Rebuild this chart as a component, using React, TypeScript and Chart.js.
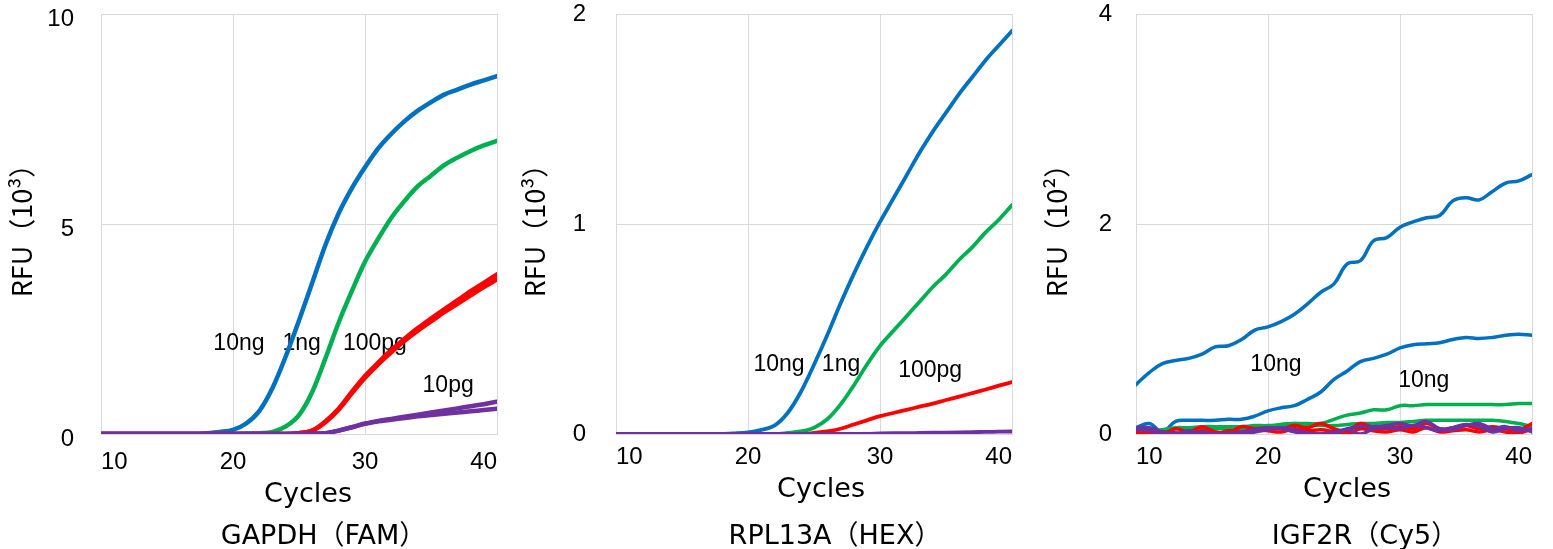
import React, { useEffect, useRef } from "react";
import { Chart, registerables } from "chart.js";

Chart.register(...registerables);

const CJK = "'Noto Sans CJK JP', 'Noto Sans', sans-serif";
const TICK_FONT = "'Liberation Sans', 'Noto Sans CJK JP', sans-serif";
const WIDE_FONT = "'DejaVu Sans', 'Noto Sans CJK JP', sans-serif";

const BLUE = "#0070C0";
const GREEN = "#00B050";
const RED = "#FF0000";
const PURPLE = "#7030A0";

// cycles 10..40
const cycles = [10, 11, 12, 13, 14, 15, 16, 17, 18, 19, 20, 21, 22, 23, 24, 25, 26, 27, 28, 29, 30, 31, 32, 33, 34, 35, 36, 37, 38, 39, 40];

// ---- GAPDH (FAM), RFU x10^3 ----
const gapdh10ng = [0, 0, 0, 0, 0, 0, 0, 0, 0.02, 0.05, 0.1, 0.25, 0.55, 1.1, 1.85, 2.7, 3.6, 4.5, 5.25, 5.85, 6.35, 6.8, 7.15, 7.45, 7.7, 7.9, 8.08, 8.2, 8.32, 8.42, 8.52];
const gapdh1ng = [0, 0, 0, 0, 0, 0, 0, 0, 0, 0, 0, 0.01, 0.02, 0.05, 0.18, 0.45, 1.0, 1.8, 2.65, 3.4, 4.1, 4.65, 5.15, 5.55, 5.9, 6.15, 6.4, 6.58, 6.74, 6.87, 6.98];
const gapdh100pgA = [0, 0, 0, 0, 0, 0, 0, 0, 0, 0, 0, 0, 0, 0, 0, 0.02, 0.08, 0.3, 0.6, 1.0, 1.38, 1.7, 2.0, 2.27, 2.52, 2.75, 2.97, 3.18, 3.4, 3.6, 3.8];
const gapdh100pgB = [0, 0, 0, 0, 0, 0, 0, 0, 0, 0, 0, 0, 0, 0, 0, 0.02, 0.08, 0.28, 0.58, 0.97, 1.34, 1.66, 1.95, 2.22, 2.46, 2.68, 2.9, 3.1, 3.3, 3.5, 3.68];
const gapdh10pgA = [0, 0, 0, 0, 0, 0, 0, 0, 0, 0, 0, 0, 0, 0, 0, 0, 0.01, 0.02, 0.08, 0.16, 0.25, 0.31, 0.36, 0.41, 0.46, 0.51, 0.56, 0.61, 0.66, 0.71, 0.77];
const gapdh10pgB = [0, 0, 0, 0, 0, 0, 0, 0, 0, 0, 0, 0, 0, 0, 0, 0, 0.01, 0.02, 0.08, 0.16, 0.24, 0.3, 0.34, 0.38, 0.42, 0.45, 0.48, 0.51, 0.54, 0.57, 0.6];

// ---- RPL13A (HEX), RFU x10^3 ----
const rpl10ng = [0, 0, 0, 0, 0, 0, 0, 0, 0, 0.003, 0.008, 0.02, 0.04, 0.1, 0.2, 0.33, 0.47, 0.62, 0.76, 0.89, 1.01, 1.12, 1.23, 1.34, 1.44, 1.53, 1.62, 1.7, 1.78, 1.85, 1.92];
const rpl1ng = [0, 0, 0, 0, 0, 0, 0, 0, 0, 0, 0, 0, 0, 0.005, 0.012, 0.03, 0.07, 0.14, 0.23, 0.33, 0.42, 0.49, 0.56, 0.63, 0.7, 0.76, 0.83, 0.89, 0.96, 1.02, 1.09];
const rpl100pg = [0, 0, 0, 0, 0, 0, 0, 0, 0, 0, 0, 0, 0, 0, 0, 0.005, 0.012, 0.025, 0.045, 0.065, 0.085, 0.1, 0.115, 0.13, 0.145, 0.162, 0.178, 0.195, 0.212, 0.23, 0.247];
const rpl10pg = [0, 0, 0, 0, 0, 0, 0, 0, 0, 0, 0, 0, 0, 0, 0, 0, 0, 0, 0, 0, 0.003, 0.004, 0.004, 0.005, 0.006, 0.007, 0.008, 0.009, 0.01, 0.011, 0.012];

// ---- IGF2R (Cy5), RFU x10^2 ----
const igf10ngA = [0.47, 0.585, 0.67, 0.7, 0.72, 0.76, 0.83, 0.84, 0.9, 0.99, 1.02, 1.07, 1.14, 1.24, 1.35, 1.43, 1.62, 1.65, 1.84, 1.87, 1.97, 2.02, 2.06, 2.08, 2.22, 2.25, 2.23, 2.31, 2.39, 2.41, 2.47];
const igf10ngB = [0.06, 0.1, 0.02, 0.12, 0.13, 0.13, 0.13, 0.14, 0.14, 0.17, 0.22, 0.25, 0.27, 0.33, 0.4, 0.52, 0.6, 0.69, 0.72, 0.76, 0.82, 0.85, 0.86, 0.87, 0.9, 0.92, 0.91, 0.92, 0.94, 0.95, 0.94];
const igf1ngA = [0.02, 0.02, 0.04, 0.06, 0.06, 0.07, 0.07, 0.07, 0.07, 0.08, 0.08, 0.09, 0.1, 0.1, 0.1, 0.14, 0.18, 0.2, 0.23, 0.23, 0.27, 0.27, 0.28, 0.28, 0.28, 0.28, 0.28, 0.28, 0.28, 0.29, 0.29];
const igf1ngB = [0, 0.01, 0.04, 0.05, 0.05, 0.05, 0.05, 0.05, 0.05, 0.05, 0.06, 0.09, 0.1, 0.09, 0.08, 0.08, 0.09, 0.1, 0.1, 0.11, 0.11, 0.12, 0.13, 0.13, 0.13, 0.13, 0.13, 0.13, 0.12, 0.1, 0.07];
const igf100pgA = [0.05, 0.03, 0, 0.05, 0.02, 0.07, 0.02, 0.01, 0.07, 0.05, 0.06, 0.05, 0.08, 0.06, 0.1, 0.05, 0.03, 0.1, 0.06, 0.05, 0.07, 0.05, 0.1, 0.05, 0.06, 0.08, 0.05, 0.07, 0.05, 0.04, 0.1];
const igf100pgB = [0.02, 0, 0.02, 0.01, 0, 0.03, 0, 0.03, 0.02, 0.04, 0.03, 0.02, 0.05, 0.03, 0.04, 0.02, 0, 0.05, 0.03, 0.02, 0.04, 0.02, 0.06, 0.02, 0.03, 0.04, 0.02, 0.04, 0.02, 0.01, 0.05];
const igf10pgA = [0.06, 0.06, 0.02, 0, 0.03, 0, 0, 0, 0.02, 0.04, 0.06, 0.05, 0.02, 0, 0, 0, 0.05, 0.07, 0.07, 0.08, 0.1, 0.08, 0.12, 0.05, 0.04, 0.08, 0.1, 0.05, 0.07, 0.03, 0.05];
const igf10pgB = [0.04, 0.03, 0, 0.01, 0, 0.02, 0, 0.01, 0, 0.02, 0.04, 0.06, 0.04, 0.01, 0, 0.02, 0.04, 0, 0.05, 0.06, 0.05, 0.08, 0.06, 0.03, 0.06, 0.09, 0.07, 0.02, 0.05, 0.06, 0.02];

// ---- curve labels (text anchored at cycle / RFU baseline) ----
const gapdhLabels = [
  { text: "10ng", x: 20.45, y: 2.0 },
  { text: "1ng", x: 25.2, y: 2.0 },
  { text: "100pg", x: 30.75, y: 2.0 },
  { text: "10pg", x: 36.3, y: 1.0 },
];
const rplLabels = [
  { text: "10ng", x: 22.35, y: 0.3 },
  { text: "1ng", x: 27.05, y: 0.3 },
  { text: "100pg", x: 33.8, y: 0.27 },
];
const igfLabels = [
  { text: "10ng", x: 20.6, y: 0.6 },
  { text: "10ng", x: 31.8, y: 0.45 },
];

const X_TITLE = "Cycles";

type Series = { data: number[]; color: string };

const panels = [
  {
    title: "GAPDH（FAM）",
    yTitle: "RFU（10³）",
    yMax: 10,
    yStep: 5,
    width: 4.5,
    smooth: "monotone",
    series: [
      { data: gapdh10pgA, color: PURPLE },
      { data: gapdh10pgB, color: PURPLE },
      { data: gapdh100pgA, color: RED },
      { data: gapdh100pgB, color: RED },
      { data: gapdh1ng, color: GREEN },
      { data: gapdh10ng, color: BLUE },
    ] as Series[],
    labels: gapdhLabels,
    left: 0,
    yTickPad: 27,
    yLabelOffset: 5,
    yTitlePad: 6,
    xTickPad: 16,
    cyclesDx: 9,
    cyclesBase: 502,
    titleDx: 16,
    titleBase: 544,
  },
  {
    title: "RPL13A（HEX）",
    yTitle: "RFU（10³）",
    yMax: 2,
    yStep: 1,
    width: 3.8,
    smooth: "monotone",
    series: [
      { data: rpl10pg, color: PURPLE },
      { data: rpl100pg, color: RED },
      { data: rpl1ng, color: GREEN },
      { data: rpl10ng, color: BLUE },
    ] as Series[],
    labels: rplLabels,
    left: 515,
    yTickPad: 30,
    yLabelOffset: 0,
    yTitlePad: 4,
    xTickPad: 11,
    cyclesDx: 7,
    cyclesBase: 497,
    titleDx: 13,
    titleBase: 544,
  },
  {
    title: "IGF2R（Cy5）",
    yTitle: "RFU（10²）",
    yMax: 4,
    yStep: 2,
    width: 3.5,
    smooth: "default",
    series: [
      { data: igf10pgA, color: PURPLE },
      { data: igf10pgB, color: PURPLE },
      { data: igf100pgA, color: RED },
      { data: igf100pgB, color: RED },
      { data: igf1ngA, color: GREEN },
      { data: igf1ngB, color: GREEN },
      { data: igf10ngB, color: BLUE },
      { data: igf10ngA, color: BLUE },
    ] as Series[],
    labels: igfLabels,
    left: 1035,
    yTickPad: 24,
    yLabelOffset: 0,
    yTitlePad: 6,
    xTickPad: 11,
    cyclesDx: 13,
    cyclesBase: 497,
    titleDx: 23,
    titleBase: 544,
  },
];

const labelPlugin = {
  id: "curveLabels",
  beforeDatasetsDraw(chart: any, _args: any, opts: any) {
    const { ctx, scales } = chart;
    const x = scales.x;
    const y = scales.y;
    ctx.save();
    ctx.font = `23px ${TICK_FONT}`;
    ctx.fillStyle = "#000";
    ctx.textAlign = "center";
    ctx.textBaseline = "alphabetic";
    (opts.items || []).forEach((it: any) => {
      ctx.fillText(it.text, x.getPixelForValue(it.x), y.getPixelForValue(it.y));
    });
    ctx.restore();
  },
};

function drawInkCentered(ctx: CanvasRenderingContext2D, text: string, cx: number, base: number) {
  const m = ctx.measureText(text);
  const inkLeft = -m.actualBoundingBoxLeft;
  const inkRight = m.actualBoundingBoxRight;
  const x = cx - (inkLeft + inkRight) / 2;
  ctx.fillText(text, x, base);
}

const bottomTextPlugin = {
  id: "bottomTexts",
  afterDraw(chart: any, _args: any, opts: any) {
    const { ctx, chartArea } = chart;
    const cx = (chartArea.left + chartArea.right) / 2;
    ctx.save();
    ctx.fillStyle = "#000";
    ctx.textAlign = "left";
    ctx.textBaseline = "alphabetic";
    ctx.font = `27px ${WIDE_FONT}`;
    drawInkCentered(ctx, opts.xTitle, cx + opts.cyclesDx, opts.cyclesBase);
    drawInkCentered(ctx, opts.title, cx + opts.titleDx, opts.titleBase);
    ctx.restore();
  },
};

function Panel({ p }: { p: (typeof panels)[number] }) {
  const ref = useRef<HTMLCanvasElement | null>(null);
  useEffect(() => {
    if (!ref.current) return;
    const chart = new Chart(ref.current, {
      type: "line",
      data: {
        datasets: p.series.map((s) => ({
          data: cycles.map((c, i) => ({ x: c, y: s.data[i] })),
          borderColor: s.color,
          backgroundColor: s.color,
          borderWidth: p.width,
          pointRadius: 0,
          fill: false,
          tension: 0.4,
          cubicInterpolationMode: p.smooth as any,
          borderCapStyle: "round",
          borderJoinStyle: "round",
        })),
      },
      options: {
        animation: false,
        responsive: true,
        maintainAspectRatio: false,
        layout: { padding: { top: 14, right: 20, bottom: 27, left: 0 } },
        plugins: {
          legend: { display: false },
          tooltip: { enabled: false },
          title: { display: false },
          curveLabels: { items: p.labels },
          bottomTexts: {
            xTitle: X_TITLE,
            title: p.title,
            cyclesDx: p.cyclesDx,
            cyclesBase: p.cyclesBase,
            titleDx: p.titleDx,
            titleBase: p.titleBase,
          },
        } as any,
        scales: {
          x: {
            type: "linear",
            min: 10,
            max: 40,
            ticks: {
              stepSize: 10,
              align: "inner",
              padding: p.xTickPad,
              color: "#000",
              font: { family: TICK_FONT, size: 24, lineHeight: 1 },
            },
            grid: { color: "#d9d9d9", lineWidth: 1, drawTicks: false },
            border: { display: true, color: "#d9d9d9" },
            title: { display: false },
            afterFit: (s: any) => {
              s.height = 88;
              s.paddingLeft = 0;
              s.paddingRight = 0;
            },
          } as any,
          y: {
            type: "linear",
            min: 0,
            max: p.yMax,
            ticks: {
              stepSize: p.yStep,
              padding: p.yTickPad,
              labelOffset: p.yLabelOffset,
              color: "#000",
              font: { family: TICK_FONT, size: 24, lineHeight: 1 },
            },
            grid: { color: "#d9d9d9", lineWidth: 1, drawTicks: false },
            border: { display: true, color: "#d9d9d9" },
            title: {
              display: true,
              text: p.yTitle,
              color: "#000",
              font: { family: CJK, size: 27 },
              padding: { top: p.yTitlePad, bottom: 0 },
            },
            afterFit: (s: any) => {
              s.width = 101;
              s.paddingTop = 0;
              s.paddingBottom = 0;
            },
          } as any,
        },
      },
      plugins: [labelPlugin as any, bottomTextPlugin as any],
    });
    return () => chart.destroy();
  }, [p]);
  return (
    <div style={{ position: "absolute", left: p.left, top: 0, width: 517, height: 549 }}>
      <canvas ref={ref} />
    </div>
  );
}

export default function App() {
  return (
    <div style={{ position: "fixed", left: 0, top: 0, width: 1553, height: 549, background: "#fff", overflow: "hidden" }}>
      {panels.map((p, i) => (
        <Panel key={i} p={p} />
      ))}
    </div>
  );
}
